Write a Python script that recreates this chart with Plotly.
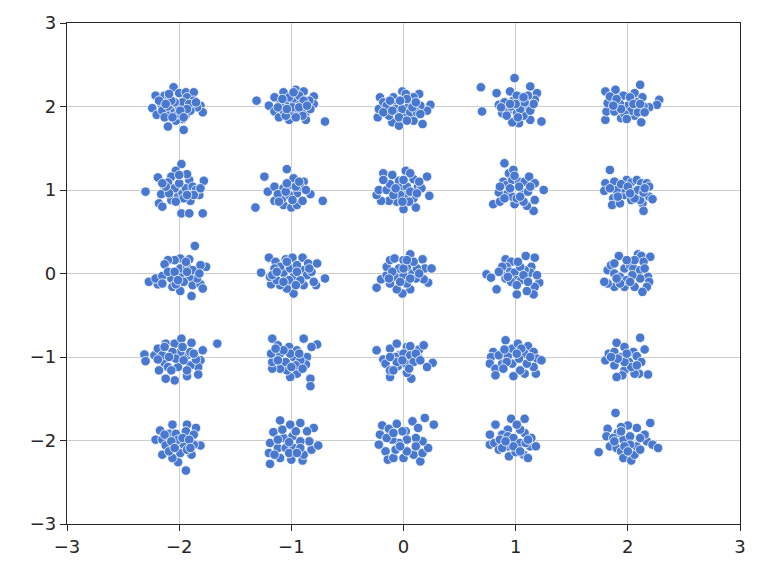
import plotly.graph_objects as go

# blob centres on the grid
centres_x = [-2, -1, 0, 1, 2]
centres_y = [2, 1, 0, -1, -2]
axis_ticks = [-3, -2, -1, 0, 1, 2, 3]

# points of each blob, as (dx, dy) offsets from its centre in hundredths of a unit
# row y = 2
b_m2_2 = [(-5, 23), (-21, 13), (-13, 13), (-9, 12), (0, 16), (6, 17), (13, 17), (7, 11), (13, 7), (19, 1),
          (21, -7), (16, -1), (-24, -2), (-16, 3), (-20, -10), (-15, -5), (-9, -1), (-9, -11), (-4, -7), (0, -1),
          (3, 5), (-4, 5), (6, -10), (3, -15), (-3, -17), (-10, -24), (4, -28), (10, -5), (9, 3), (-7, 7),
          (-13, -13), (-18, 7), (-1, -9), (7, -3), (1, -5), (-12, 3), (-6, -13), (15, 5), (-9, 15), (4, -13)]
b_m1_2 = [(-31, 7), (30, -18), (-20, 1), (-15, 11), (-7, 17), (4, 20), (11, 18), (20, 12), (20, 3), (13, -7),
          (13, -16), (-2, -16), (-15, -6), (-11, -13), (-4, 3), (2, 7), (8, 3), (5, -5), (-1, -9), (-7, -5),
          (-10, 3), (-2, 11), (7, 13), (16, 7), (17, -3), (-8, 9), (1, -1), (10, -11), (4, -13), (-5, -11),
          (-12, -1), (11, 7), (2, 17), (-4, -3), (7, -1), (14, 1)]
b_0_2 = [(-23, -13), (-22, -3), (-21, 11), (-18, 5), (-15, 1), (-10, -19), (-4, -23), (0, -13), (2, -9), (9, -17),
         (17, -21), (24, 2), (21, -5), (15, 1), (14, 15), (9, 11), (-1, 18), (2, 15), (-9, 11), (-6, 3),
         (-7, -3), (-1, -3), (5, 3), (6, -7), (12, -7), (-4, -13), (-13, -11), (-18, -7), (3, 9), (8, -1),
         (-12, 7), (11, 5), (15, -9), (-10, -5), (-3, 7), (3, -17)]
b_1_2 = [(-31, 23), (-30, -6), (-1, 34), (-17, 16), (-5, 18), (13, 24), (19, 16), (17, 8), (23, -18), (13, -16),
         (3, -20), (-3, -19), (-12, -8), (-15, 2), (-10, 5), (-2, 7), (1, 13), (5, 5), (10, -1), (1, -7),
         (7, -11), (13, -5), (-7, -5), (-4, 0), (11, 13), (16, 3), (4, -3), (-8, -11), (8, 5), (-13, -1),
         (2, -13), (0, 3), (7, 11), (-5, 3)]
b_2_2 = [(-20, 18), (-11, 20), (11, 26), (28, 8), (26, 2), (19, -1), (14, 0), (12, -19), (6, -11), (-6, -14),
         (-20, -16), (-19, -6), (-18, 4), (-16, 12), (-4, 13), (6, 16), (13, 11), (8, 5), (0, 1), (-7, 3),
         (-12, -6), (3, -5), (9, -7), (-3, -9), (-10, 9), (2, 11), (15, -7), (-6, -3), (-13, 1), (5, 3),
         (11, 3), (-1, -15)]

# row y = 1
b_m2_1 = [(2, 31), (-3, 23), (-19, 15), (-30, -2), (2, -28), (9, -28), (21, -28), (22, 11), (18, -6), (10, -13),
          (9, 12), (7, 19), (-7, 16), (-10, 9), (-13, 0), (-16, -5), (-18, -16), (-15, -20), (-7, -12), (-1, -8),
          (3, -4), (6, 2), (12, 4), (15, 0), (-4, 2), (0, 8), (-9, -4), (-12, 4), (4, -10), (13, -6),
          (-3, -14), (7, -6), (0, 18), (-15, 8), (19, 2)]
b_m1_1 = [(-24, 16), (-4, 25), (-32, -21), (28, -13), (-21, -2), (-15, 4), (-15, -13), (-7, 2), (-7, -18), (0, -21),
          (5, -18), (11, 10), (17, -5), (10, -13), (5, -4), (-1, 6), (2, 14), (8, 4), (-8, -10), (-2, -6),
          (-12, -5), (1, -12), (-5, -2), (4, 4), (13, 0), (-4, 8), (7, 10), (-11, -14)]
b_0_1 = [(-18, 20), (2, 23), (21, 16), (23, -7), (11, -21), (0, -23), (-6, -14), (-13, -13), (-20, -13), (-24, -6),
         (-22, 0), (-15, 0), (-12, 7), (-18, 12), (-4, 11), (-1, 4), (3, 4), (9, 13), (13, 4), (16, 2),
         (9, -10), (3, -6), (-3, -6), (-9, -6), (6, 20), (0, 12), (-7, 2), (6, -2), (12, -4), (5, -14),
         (-1, -14), (-10, 18), (14, 10)]
b_1_1 = [(-10, 32), (-6, 20), (-2, 24), (-11, 10), (-15, -3), (-20, -17), (-14, -14), (-7, -4), (-8, 6), (-3, 12),
         (3, 10), (8, 10), (12, 16), (17, 8), (25, 0), (17, -12), (16, -25), (10, -19), (-1, -17), (-3, -8),
         (6, -4), (3, 4), (11, -2), (-10, -10), (1, -10), (7, -14), (-14, 4), (-5, 2), (13, 4), (4, -8),
         (-1, 17)]
b_2_1 = [(-16, 24), (-20, 8), (-21, -1), (-12, 10), (-13, -10), (-14, -18), (-7, -16), (-3, -6), (-4, 2), (-10, 0),
         (-1, 12), (3, 9), (8, 12), (12, 8), (17, 8), (19, 4), (19, -8), (22, -11), (13, -16), (14, -25),
         (11, -12), (5, -2), (3, -12), (9, 0), (14, -3), (-6, 7), (-16, 2), (0, 4), (6, -10), (-9, -8),
         (15, 2), (2, -4)]

# row y = 0
b_m2_0 = [(14, 33), (24, 8), (19, 10), (9, 17), (1, 18), (-4, 16), (-10, 16), (-13, 11), (-27, -10), (-19, -13),
          (-21, -6), (-15, -3), (-7, -6), (-6, -16), (1, -21), (11, -27), (12, -14), (19, -13), (21, -18), (16, -6),
          (9, -4), (1, -2), (1, 6), (7, 8), (4, -10), (-3, -13), (-10, 2), (-4, 2), (-15, -12), (12, 4),
          (6, 14), (18, 0), (-1, -8), (7, 2)]
b_m1_0 = [(-27, 1), (-20, 19), (-14, 14), (-5, 17), (1, 19), (10, 19), (15, 12), (23, 12), (30, -6), (22, -14),
          (20, -10), (11, -14), (2, -24), (-4, -18), (-10, -14), (-18, -13), (-19, -4), (-13, -8), (-7, 1), (-10, 8),
          (-15, 6), (-1, 6), (2, -4), (10, 4), (14, -2), (5, 10), (-2, -8), (8, -8), (18, 2), (-17, -2),
          (-4, 14), (4, -14), (16, 6), (-7, -10), (-13, 2), (5, 2)]
b_0_0 = [(-24, -17), (-20, -7), (-15, -2), (-15, 8), (-12, 16), (-8, 18), (0, 16), (6, 23), (17, 17), (19, 6),
         (25, 6), (22, -11), (18, -7), (6, -19), (-1, -24), (-6, -19), (-12, -12), (-7, -4), (0, -2), (8, 0),
         (12, 6), (11, -6), (3, -12), (-4, 6), (3, 8), (9, 14), (-10, 2), (6, -6), (0, 6), (-3, -10),
         (14, 0), (-13, -6), (3, 16)]
b_1_0 = [(-26, -1), (-22, -5), (-17, -19), (-11, 2), (-9, 17), (-4, 14), (-8, 8), (-12, 8), (-5, 2), (-1, 1),
         (1, -8), (1, -25), (9, 21), (17, 19), (14, 8), (13, 1), (21, -11), (17, -16), (16, -25), (10, -21),
         (5, -8), (8, 4), (4, 8), (7, -2), (-9, -6), (-15, 2), (-4, -10), (11, -10), (2, 14), (1, -14),
         (-7, -4), (19, -2)]
b_2_0 = [(-8, 21), (9, 23), (12, 21), (20, 20), (14, 14), (18, -4), (19, -10), (17, -16), (13, -22), (6, -16),
         (-3, -16), (-12, -16), (-18, -12), (-21, -10), (-18, 4), (-15, 10), (-12, 0), (-7, -4), (-3, 6), (2, 10),
         (5, 6), (11, 4), (11, -6), (4, -2), (-1, -8), (-7, -12), (6, 16), (-1, 16), (15, 6), (-12, 12),
         (2, -10), (-10, -6)]

# row y = -1
b_m2_m1 = [(-31, 3), (-30, -5), (-22, 2), (-19, 10), (-12, 16), (-4, 16), (2, 22), (11, 17), (21, 8), (34, 16),
           (19, -4), (17, -12), (17, -21), (7, -23), (-4, -28), (-12, -26), (-18, -16), (-13, -7), (-10, -12), (-1, -12),
           (10, -10), (15, -3), (7, 2), (1, 6), (-6, 6), (-15, 2), (-3, -2), (4, -4), (-9, 0), (10, 6),
           (-13, 12), (3, 12), (-7, -16), (7, -16), (13, 4), (-19, -3)]
b_m1_m1 = [(-17, 22), (-12, 14), (-2, 12), (11, 22), (23, 15), (18, 12), (5, 8), (14, 0), (13, -9), (17, -26),
           (17, -35), (5, -20), (-1, -24), (-4, -16), (-10, -14), (-17, -14), (-17, -6), (-18, 4), (-10, 4), (-5, -6),
           (2, 0), (8, -4), (4, -10), (-1, 4), (-12, -4), (10, -14), (-7, 8), (7, 4), (0, -12), (-14, 10)]
b_0_m1 = [(-24, 8), (-18, -3), (-16, -8), (-12, 10), (-6, 16), (3, 12), (6, 13), (14, 9), (18, 14), (13, 0),
          (26, -7), (21, -12), (7, -26), (-12, -24), (-12, -16), (-5, -11), (3, -19), (2, -8), (-4, 2), (-7, 0),
          (0, 4), (6, 2), (9, -6), (-6, -6), (-12, 0), (5, -14), (11, 4), (-1, -4), (-9, -16), (15, -4)]
b_1_m1 = [(-9, 20), (-20, 6), (-22, 0), (-23, -8), (-18, -14), (-18, -22), (-12, -8), (-15, 2), (-7, 1), (-3, 10),
          (2, 16), (11, 13), (8, 4), (16, 6), (19, -2), (23, -4), (18, -20), (16, -12), (8, -20), (4, -16),
          (-2, -23), (-3, -8), (3, -2), (10, -8), (-10, 9), (-8, -6), (5, 10), (13, 0), (1, 4), (-11, -14)]
b_2_m1 = [(11, 23), (15, 9), (-10, 17), (-3, 12), (5, 6), (8, 1), (12, -6), (18, -21), (10, -20), (6, -20),
          (-3, -16), (-5, -22), (-10, -24), (-12, -10), (-20, -4), (-17, 4), (-12, 6), (-6, 0), (1, -6), (3, -12),
          (-3, -6), (-9, -2), (-1, 4), (8, -10), (-15, 0)]

# row y = -2
b_m2_m2 = [(-6, 19), (7, 19), (15, 15), (-17, 12), (-21, 1), (-15, 1), (-9, 8), (-3, 8), (6, 11), (13, 7),
           (19, -6), (13, -5), (11, -17), (6, -36), (-1, -26), (-6, -21), (-15, -17), (-12, -6), (-1, -7), (4, -5),
           (-1, 1), (-7, -1), (3, 3), (9, 1), (-9, -13), (1, -15), (7, -11), (-13, 7), (-4, -9), (10, -9)]
b_m1_m2 = [(-10, 24), (-1, 19), (8, 21), (-16, 10), (-19, -3), (-20, -15), (-19, -28), (-10, -21), (0, -23), (10, -24),
           (11, -17), (18, -11), (24, -6), (20, 15), (14, 11), (16, -1), (8, -1), (1, 5), (-7, 3), (-12, -9),
           (-5, -9), (2, -9), (8, -9), (-8, 13), (4, 11), (-2, -15), (-12, 1), (5, -15), (-2, -2), (-15, -17)]
b_0_m2 = [(-19, 18), (-13, 14), (-6, 20), (8, 23), (19, 27), (27, 19), (13, 15), (2, 11), (-21, 7), (-22, -5),
          (-16, -13), (-14, -23), (-9, -21), (0, -21), (9, -17), (15, -25), (17, -15), (22, -9), (17, -1), (11, 3),
          (3, 1), (-4, -3), (-10, 1), (-15, 3), (-7, -11), (3, -13), (-1, 11), (-9, 9), (11, -7), (-3, -7)]
b_1_m2 = [(-18, 19), (-4, 26), (8, 26), (-23, 7), (-23, -5), (-19, -3), (-15, -11), (-6, -19), (0, -14), (7, -17),
          (11, -21), (13, -7), (18, -7), (14, 3), (8, 9), (4, 13), (1, 19), (-7, 13), (-12, 7), (-14, 1),
          (-7, 5), (-2, 3), (4, -3), (-7, -7), (-12, -9), (9, -3), (-2, -7), (-9, -1), (4, -13), (11, 1)]
b_2_m2 = [(-11, 33), (20, 21), (-26, -14), (-18, 14), (-19, 5), (-16, -7), (-10, -9), (-6, -13), (-4, -21), (3, -24),
          (6, -17), (8, -7), (17, -1), (22, -5), (27, -9), (15, 7), (8, 15), (0, 18), (-6, 16), (-9, 9),
          (-4, 1), (2, 5), (2, -5), (-3, -7), (-13, 3), (11, 3), (11, -11), (-12, -1), (0, -13), (-6, 11)]

rows = [
    [b_m2_2, b_m1_2, b_0_2, b_1_2, b_2_2],
    [b_m2_1, b_m1_1, b_0_1, b_1_1, b_2_1],
    [b_m2_0, b_m1_0, b_0_0, b_1_0, b_2_0],
    [b_m2_m1, b_m1_m1, b_0_m1, b_1_m1, b_2_m1],
    [b_m2_m2, b_m1_m2, b_0_m2, b_1_m2, b_2_m2],
]

xs, ys = [], []
for cy, row in zip(centres_y, rows):
    for cx, blob in zip(centres_x, row):
        for dx, dy in blob:
            xs.append(cx + dx / 100)
            ys.append(cy + dy / 100)

fig = go.Figure(go.Scatter(
    x=xs, y=ys, mode="markers",
    marker=dict(color="#4878cf", size=9.5, line=dict(color="white", width=0.8)),
))

axis_style = dict(
    range=[-3, 3], tickvals=axis_ticks, showgrid=True, gridcolor="#cccccc", gridwidth=1,
    zeroline=False, showline=True, linecolor="#262626", linewidth=1.3, mirror=True,
    ticks="outside", ticklen=6, tickwidth=1.3, tickcolor="#262626", automargin=False,
)
fig.update_xaxes(**axis_style)
fig.update_yaxes(**axis_style)

# the page body adds an 8px offset, so the figure is 8px smaller each way
fig.update_layout(
    width=754, height=571,
    margin=dict(l=59, r=22, t=15, b=55),
    plot_bgcolor="white", paper_bgcolor="white",
    font=dict(family="DejaVu Sans", size=18, color="#262626"),
    showlegend=False,
)

fig.write_html("out.html")
